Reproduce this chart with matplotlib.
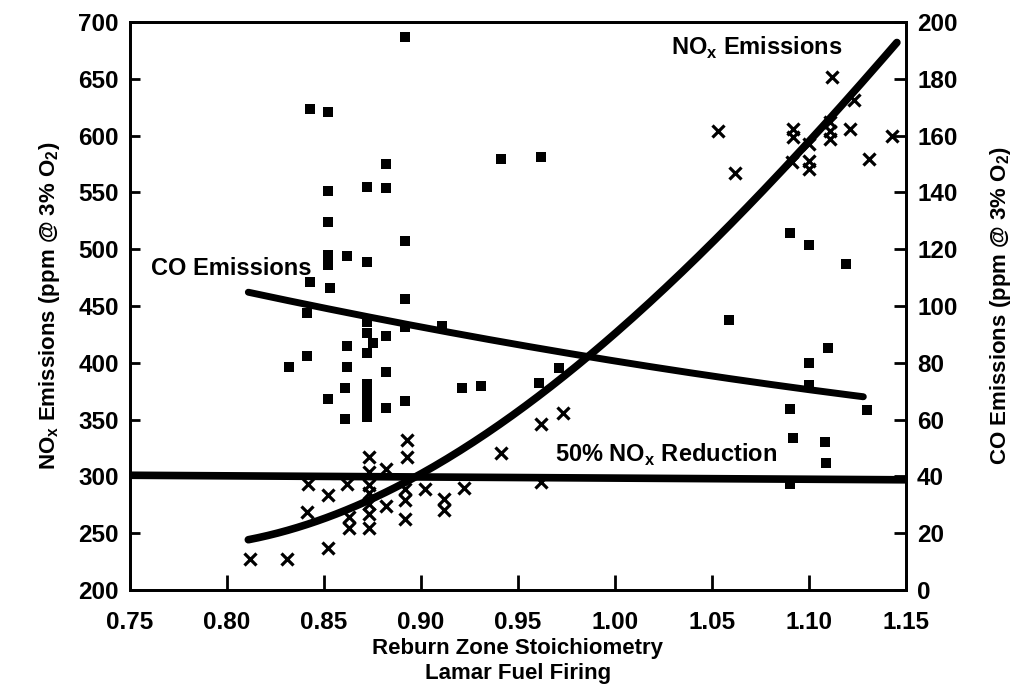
import matplotlib
matplotlib.use("Agg")
import matplotlib.pyplot as plt
import numpy as np

plt.rcParams['font.family'] = ['Liberation Sans', 'DejaVu Sans']
plt.rcParams['mathtext.fontset'] = 'custom'
plt.rcParams['mathtext.rm'] = 'Liberation Sans:bold'
plt.rcParams['mathtext.bf'] = 'Liberation Sans:bold'

# ---- data ----
# CO emissions (squares, right axis, ppm)
co_x = [0.843, 0.852, 0.882, 0.941, 0.962, 0.892, 0.852, 0.872, 0.882, 0.852,
        0.892, 0.852, 0.852, 0.852, 0.862, 0.872, 0.843, 0.853, 0.892, 0.841,
        0.872, 0.892, 0.911, 0.872, 0.882, 0.875, 0.862, 0.872, 0.841, 0.832,
        0.862, 0.882, 0.921, 0.931, 0.861, 0.872, 0.872, 0.872, 0.872, 0.872,
        0.852, 0.882, 0.892, 0.861, 0.961, 0.971, 1.059, 1.090, 1.100, 1.119,
        1.110, 1.100, 1.100, 1.090, 1.130, 1.092, 1.108, 1.109, 1.090]
co_y = [169.4, 168.2, 150.0, 151.8, 152.6, 194.8, 140.6, 142.0, 141.7, 129.5,
        123.0, 118.0, 116.2, 114.4, 117.6, 115.5, 108.6, 106.5, 102.5, 97.4,
        94.5, 92.7, 93.1, 90.4, 89.3, 86.9, 86.0, 83.5, 82.5, 78.6,
        78.6, 76.8, 71.2, 71.9, 71.1, 72.5, 69.5, 66.5, 63.5, 61.0,
        67.3, 64.0, 66.6, 60.3, 72.8, 78.0, 95.1, 125.6, 121.5, 114.7,
        85.1, 79.8, 72.2, 63.6, 63.4, 53.6, 52.2, 44.6, 37.2]

# NOx emissions (crosses, left axis, ppm)
nox_x = [0.812, 0.831, 0.852, 0.841, 0.852, 0.842, 0.862, 0.873, 0.882, 0.893,
         0.893, 0.873, 0.873, 0.873, 0.873, 0.873, 0.873, 0.863, 0.863, 0.882,
         0.892, 0.892, 0.892, 0.902, 0.912, 0.912, 0.922, 0.941, 0.962, 0.973,
         0.962, 1.053, 1.062, 1.112, 1.123, 1.092, 1.092, 1.111, 1.111, 1.111,
         1.121, 1.143, 1.100, 1.100, 1.100, 1.131, 1.091]
nox_y = [227.5, 227.0, 237.0, 268.5, 283.2, 293.5, 293.5, 317.2, 306.8, 332.0,
         317.2, 304.0, 292.0, 285.0, 276.0, 267.0, 255.0, 264.0, 255.0, 274.3,
         289.0, 278.8, 262.5, 289.0, 280.2, 270.0, 289.7, 320.5, 346.0, 355.7,
         295.0, 604.4, 566.8, 651.8, 631.0, 605.9, 598.5, 611.8, 604.4, 597.0,
         605.9, 600.0, 592.6, 577.7, 570.3, 579.2, 577.0]

# fitted NOx curve (left axis)
nox_fit_x = [0.811, 0.837, 0.863, 0.882, 0.896, 0.940, 0.9705, 0.984, 1.008, 1.053, 1.090, 1.1105, 1.1453]
nox_fit_y = [244, 255, 271, 288, 300, 342, 386, 400, 440, 508, 579, 615, 681]

# fitted CO line (right axis)
co_fit_x = [0.811, 0.843, 0.892, 0.984, 1.042, 1.128]
co_fit_y = [105.0, 100.4, 93.0, 83.0, 76.0, 68.0]

# 50% NOx reduction level (left axis)
red_x = [0.75, 1.15]
red_y = [301, 297]

x_ticks = [0.75, 0.80, 0.85, 0.90, 0.95, 1.00, 1.05, 1.10, 1.15]
left_ticks = [200, 250, 300, 350, 400, 450, 500, 550, 600, 650, 700]
right_ticks = [0, 20, 40, 60, 80, 100, 120, 140, 160, 180, 200]

fig = plt.figure(figsize=(10.24, 6.99), dpi=100)
L, R, T, B = 130, 906, 22, 590
ax = fig.add_axes([L/1024, 1 - B/699, (R-L)/1024, (B-T)/699])
ax2 = ax.twinx()

ax.set_xlim(0.75, 1.15)
ax.set_ylim(200, 700)
ax2.set_ylim(0, 200)

# smooth drawing of the read fitted curves
def smooth(xs, ys, deg):
    c = np.polyfit(xs, ys, deg)
    xx = np.linspace(min(xs), max(xs), 200)
    return xx, np.polyval(c, xx)

ax.plot(red_x, red_y, color='black', lw=5.5, solid_capstyle='butt', zorder=3)
sx, sy = smooth(nox_fit_x, nox_fit_y, 3)
ax.plot(sx, sy, color='black', lw=5.5, solid_capstyle='round', zorder=3)
ax.scatter(nox_x, nox_y, marker='x', s=75, color='black', linewidths=2.3, zorder=4)
cx, cy = smooth(co_fit_x, co_fit_y, 2)
ax2.plot(cx, cy, color='black', lw=5, solid_capstyle='round', zorder=3)
ax2.scatter(co_x, co_y, marker='s', s=52, color='black', linewidths=0, zorder=4)

ax.set_xticks(x_ticks)
ax.set_xticklabels([f"{v:.2f}" for v in x_ticks])
ax.set_yticks(left_ticks)
ax2.set_yticks(right_ticks)

for lab in ax.get_xticklabels() + ax.get_yticklabels() + ax2.get_yticklabels():
    lab.set_fontsize(17.5)
    lab.set_fontweight('bold')

ax.tick_params(axis='x', direction='in', length=11, width=2, pad=15)
ax.tick_params(axis='y', direction='in', length=7, width=2, pad=8)
ax2.tick_params(axis='y', direction='in', length=9, width=2, pad=8)

for a in (ax, ax2):
    for s in a.spines.values():
        s.set_linewidth(2)

ax.set_xlabel("Reburn Zone Stoichiometry\nLamar Fuel Firing", fontsize=16,
              fontweight='bold', labelpad=3, linespacing=1.25)
ax.set_ylabel(r"NO$_\mathregular{x}$ Emissions (ppm @ 3% O$_\mathregular{2}$)",
              fontsize=16, fontweight='bold', labelpad=12)
ax2.set_ylabel(r"CO Emissions (ppm @ 3% O$_\mathregular{2}$)",
               fontsize=16, fontweight='bold', labelpad=22)

ax.text(1.073, 677, r"NO$_\mathregular{x}$ Emissions", fontsize=17, fontweight='bold',
        ha='center', va='center')
ax.text(0.7608, 483, "CO Emissions", fontsize=17, fontweight='bold',
        ha='left', va='center')
ax.text(0.969, 319, r"50% NO$_\mathregular{x}$ Reduction", fontsize=17, fontweight='bold',
        ha='left', va='center')

fig.savefig("out.png", dpi=100)
